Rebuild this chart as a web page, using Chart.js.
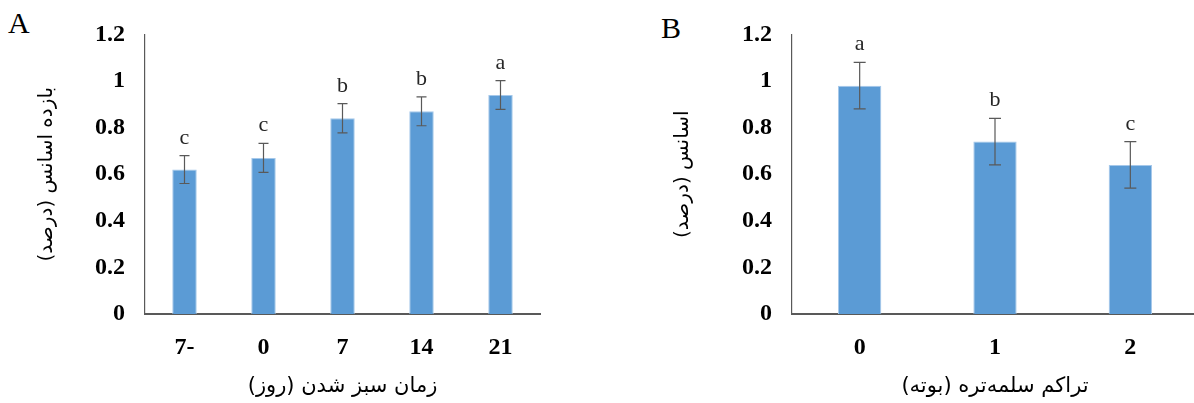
<!DOCTYPE html>
<html>
<head>
<meta charset="utf-8">
<script src="https://cdn.jsdelivr.net/npm/chart.js@4"></script>
<style>
html, body { margin: 0; padding: 0; background: #fff; overflow: hidden; width: 1194px; height: 403px; }
canvas { position: absolute; top: 0; }
#graficoA { left: 0; }
#graficoB { left: 600px; }
.painel { position: absolute; font-family: "Liberation Serif", serif; font-size: 30px; line-height: 1; color: #000; }
</style>
</head>
<body>
<div class="painel" style="left:8px; top:8px">A</div>
<div class="painel" style="left:661px; top:13px">B</div>
<canvas id="graficoA" width="600" height="403" dir="rtl"></canvas>
<canvas id="graficoB" width="600" height="403" dir="rtl"></canvas>
<script>
// Painel A - tempo de esverdeamento
const categoriasA = ['-7', '0', '7', '14', '21'];
const valoresA = [0.62, 0.67, 0.84, 0.87, 0.94];
const errosA = [0.06, 0.062, 0.063, 0.062, 0.062];
const letrasA = ['c', 'c', 'b', 'b', 'a'];

// Painel B - densidade
const categoriasB = ['0', '1', '2'];
const valoresB = [0.98, 0.74, 0.64];
const errosB = [0.10, 0.10, 0.10];
const letrasB = ['a', 'b', 'c'];

// Ticks do eixo y
const ticksY = [0, 0.2, 0.4, 0.6, 0.8, 1, 1.2];

const corBarra = '#5B9BD5';
const corEixo = '#595959';

// barras de erro e letras
const barrasErro = {
    id: 'barrasErro',
    afterDatasetsDraw(chart) {
        const ctx = chart.ctx;
        const ds = chart.data.datasets[0];
        const meta = chart.getDatasetMeta(0);
        const y = chart.scales.y;
        ctx.save();
        ctx.strokeStyle = corEixo;
        ctx.lineWidth = 1.2;
        ctx.fillStyle = '#262626';
        ctx.font = '22px "Liberation Serif"';
        ctx.textAlign = 'center';
        ctx.textBaseline = 'alphabetic';
        meta.data.forEach((bar, i) => {
            const topo = y.getPixelForValue(ds.data[i] + ds.erros[i]);
            const base = y.getPixelForValue(ds.data[i] - ds.erros[i]);
            const c = ds.capa / 2;
            ctx.beginPath();
            ctx.moveTo(bar.x, topo);
            ctx.lineTo(bar.x, base);
            ctx.moveTo(bar.x - c, topo);
            ctx.lineTo(bar.x + c, topo);
            ctx.moveTo(bar.x - c, base);
            ctx.lineTo(bar.x + c, base);
            ctx.stroke();
            ctx.fillText(ds.letras[i], bar.x, topo - 12);
        });
        ctx.restore();
    }
};

function criarGrafico(id, labels, valores, erros, letras, cfg) {
    const ctx = document.getElementById(id).getContext('2d');
    return new Chart(ctx, {
        type: 'bar',
        data: {
            labels: labels,
            datasets: [{
                data: valores,
                erros: erros,
                letras: letras,
                capa: cfg.capa,
                backgroundColor: corBarra,
                borderColor: '#a5c8ea',
                borderWidth: 1,
                barPercentage: cfg.barra,
                categoryPercentage: 1
            }]
        },
        options: {
            responsive: false,
            animation: false,
            layout: { padding: { left: 0, right: cfg.direita, top: 31, bottom: 0 } },
            plugins: { legend: { display: false }, tooltip: { enabled: false } },
            scales: {
                x: {
                    grid: { display: false, drawTicks: false },
                    border: { display: true, color: corEixo, width: 2 },
                    ticks: {
                        color: '#000',
                        padding: 19,
                        font: { family: 'Liberation Serif', size: 24, weight: 'bold' }
                    },
                    title: {
                        display: true,
                        text: cfg.tituloX,
                        color: '#000',
                        padding: { top: 0, bottom: 4 },
                        font: { family: 'DejaVu Sans', size: 21 }
                    },
                    afterFit: s => { s.height = 89; }
                },
                y: {
                    min: 0,
                    max: 1.2,
                    afterBuildTicks: s => { s.ticks = ticksY.map(v => ({ value: v })); },
                    grid: { display: false, drawTicks: false },
                    border: { display: true, color: corEixo, width: 1.2 },
                    ticks: {
                        color: '#000',
                        padding: 20,
                        callback: v => String(v),
                        font: { family: 'Liberation Serif', size: 24, weight: 'bold' }
                    },
                    title: {
                        display: true,
                        text: cfg.tituloY,
                        color: '#000',
                        padding: { top: cfg.padTituloY, bottom: 0 },
                        font: { family: 'DejaVu Sans', size: 20 }
                    },
                    afterFit: s => { s.width = cfg.largY; }
                }
            }
        },
        plugins: [barrasErro]
    });
}

criarGrafico('graficoA', categoriasA, valoresA, errosA, letrasA, {
    capa: 10, barra: 0.31, direita: 60, largY: 145, padTituloY: 35,
    tituloY: 'بازده اسانس (درصد)',
    tituloX: 'زمان سبز شدن (روز)'
});

criarGrafico('graficoB', categoriasB, valoresB, errosB, letrasB, {
    capa: 12, barra: 0.32, direita: 2, largY: 192, padTituloY: 71,
    tituloY: 'اسانس (درصد)',
    tituloX: 'تراکم سلمه‌تره (بوته)'
});
</script>
</body>
</html>
